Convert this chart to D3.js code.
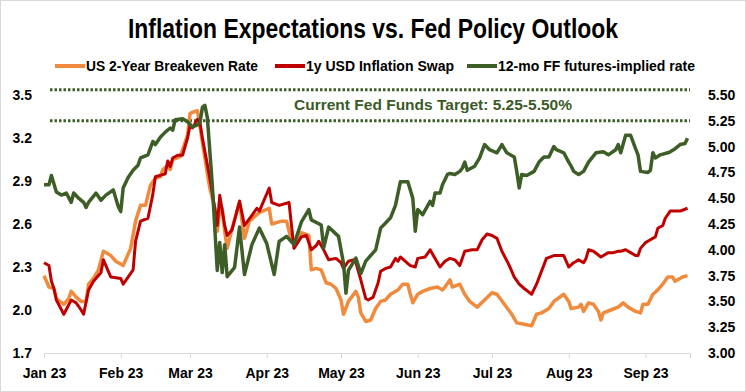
<!DOCTYPE html>
<html><head><meta charset="utf-8">
<script src="https://cdn.jsdelivr.net/npm/d3@7"></script>
<style>
html,body{margin:0;padding:0;background:#fff;}
text{font-family:"Liberation Sans Narrow","Arial Narrow","Liberation Sans",sans-serif;font-weight:bold;}
</style></head>
<body><svg id="c" width="746" height="392"></svg>
<script>
// ---------- DATA ----------
const title = "Inflation Expectations vs. Fed Policy Outlook";
const seriesNames = ["US 2-Year Breakeven Rate", "1y USD Inflation Swap", "12-mo FF futures-implied rate"];
const tickMonths = ["01-03","02-03","03-03","04-03","05-03","06-03","07-03","08-03","09-03"];
const leftTicks = [1.7, 2.0, 2.3, 2.6, 2.9, 3.2, 3.5];
const rightTicks = [3.00, 3.25, 3.50, 3.75, 4.00, 4.25, 4.50, 4.75, 5.00, 5.25, 5.50];
const targetLines = [5.25, 5.55];
const targetLabel = "Current Fed Funds Target: 5.25-5.50%";

const breakevenDates = ["01-03","01-05","01-07","01-08","01-11","01-13","01-14","01-16","01-18","01-20","01-21","01-23","01-25","01-27","01-30","02-01","02-04","02-07","02-09","02-11","02-13","02-15","02-17","02-19","02-20","02-22","02-23","02-24","02-27","02-28","03-02","03-03","03-04","03-06","03-07","03-09","03-11","03-13","03-14","03-15","03-16","03-17","03-18","03-20","03-23","03-25","03-27","03-31","04-04","04-05","04-09","04-11","04-13","04-15","04-17","04-20","04-21","04-23","04-25","04-27","04-29","05-01","05-03","05-04","05-06","05-09","05-10","05-11","05-13","05-15","05-17","05-19","05-21","05-23","05-26","05-28","05-30","05-31","06-01","06-03","06-05","06-08","06-11","06-13","06-14","06-16","06-17","06-20","06-22","06-24","06-27","06-30","07-03","07-05","07-08","07-11","07-13","07-16","07-19","07-21","07-23","07-26","07-28","08-01","08-03","08-04","08-07","08-08","08-09","08-11","08-13","08-15","08-16","08-17","08-20","08-23","08-25","08-27","08-30","09-01","09-02","09-04","09-06","09-08","09-10","09-12","09-14","09-15","09-18","09-20"];
const breakevenValues = [2.24,2.16,2.15,2.08,2.04,2.08,2.13,2.09,2.06,2.06,2.18,2.22,2.28,2.41,2.38,2.34,2.31,2.43,2.62,2.73,2.73,2.87,2.92,2.93,2.98,3.01,2.98,3.05,3.07,3.12,3.22,3.37,3.38,3.39,3.28,3.06,2.85,2.71,2.55,2.69,2.71,2.55,2.43,2.57,2.75,2.50,2.62,2.68,2.71,2.60,2.62,2.62,2.48,2.47,2.54,2.52,2.28,2.29,2.28,2.19,2.18,2.15,2.07,1.97,2.06,2.13,2.09,1.98,1.92,1.93,2.01,2.06,2.07,2.11,2.14,2.18,2.18,2.11,2.05,2.11,2.13,2.15,2.16,2.14,2.16,2.21,2.16,2.18,2.11,2.06,2.02,2.07,2.12,2.11,2.04,1.97,1.91,1.90,1.89,1.97,1.98,2.01,2.06,2.11,2.06,2.01,2.02,2.04,1.99,2.05,2.04,1.99,1.93,1.98,2.00,2.02,2.05,2.02,1.99,1.98,2.04,2.04,2.11,2.14,2.18,2.23,2.23,2.20,2.23,2.24];

const swapDates = ["01-03","01-05","01-06","01-07","01-08","01-11","01-14","01-16","01-18","01-19","01-21","01-23","01-25","01-26","01-27","01-30","02-03","02-04","02-08","02-09","02-11","02-14","02-16","02-17","02-21","02-22","02-23","02-24","02-26","02-28","03-02","03-03","03-04","03-06","03-07","03-08","03-11","03-13","03-14","03-15","03-17","03-18","03-20","03-23","03-25","03-28","03-30","03-31","04-02","04-04","04-05","04-08","04-12","04-14","04-17","04-19","04-21","04-23","04-24","04-26","04-28","05-01","05-03","05-04","05-06","05-08","05-09","05-11","05-13","05-14","05-16","05-18","05-19","05-21","05-23","05-25","05-26","05-27","05-29","05-31","06-02","06-03","06-06","06-08","06-10","06-12","06-14","06-16","06-18","06-20","06-22","06-25","06-27","06-29","07-01","07-03","07-05","07-07","07-10","07-12","07-14","07-16","07-19","07-21","07-23","07-25","07-28","07-30","08-01","08-03","08-05","08-07","08-09","08-10","08-11","08-13","08-16","08-19","08-21","08-23","08-24","08-26","08-28","08-30","08-31","09-01","09-03","09-05","09-07","09-08","09-10","09-11","09-13","09-15","09-17","09-20"];
const swapValues = [2.33,2.31,2.20,2.15,2.07,1.97,2.07,2.05,2.00,1.97,2.14,2.20,2.24,2.26,2.35,2.23,2.22,2.18,2.28,2.48,2.62,2.64,2.81,2.93,2.95,3.04,3.00,3.06,3.08,3.08,3.20,3.29,3.27,3.33,3.31,3.20,2.92,2.71,2.59,2.80,2.59,2.52,2.56,2.76,2.59,2.66,2.71,2.69,2.77,2.85,2.75,2.73,2.75,2.43,2.51,2.52,2.42,2.45,2.48,2.42,2.35,2.36,2.33,2.29,2.34,2.35,2.33,2.21,2.08,2.07,2.09,2.19,2.27,2.29,2.30,2.36,2.34,2.37,2.34,2.31,2.30,2.36,2.37,2.42,2.36,2.30,2.34,2.36,2.35,2.31,2.41,2.42,2.42,2.49,2.53,2.52,2.50,2.41,2.31,2.23,2.18,2.15,2.11,2.18,2.27,2.36,2.38,2.38,2.38,2.30,2.33,2.35,2.33,2.36,2.42,2.41,2.37,2.40,2.40,2.41,2.41,2.42,2.40,2.38,2.38,2.43,2.47,2.49,2.51,2.57,2.59,2.64,2.69,2.69,2.69,2.71];

const ffDates = ["01-03","01-05","01-06","01-08","01-10","01-12","01-14","01-15","01-17","01-19","01-20","01-21","01-24","01-26","01-28","01-31","02-02","02-03","02-04","02-06","02-08","02-10","02-11","02-14","02-16","02-17","02-19","02-21","02-23","02-24","02-25","02-28","03-02","03-04","03-06","03-07","03-08","03-09","03-10","03-12","03-14","03-15","03-16","03-17","03-18","03-21","03-23","03-25","03-28","03-31","04-03","04-06","04-08","04-11","04-14","04-17","04-20","04-21","04-25","04-26","04-28","05-02","05-04","05-05","05-06","05-09","05-11","05-13","05-17","05-19","05-21","05-23","05-25","05-27","05-30","06-01","06-02","06-03","06-05","06-08","06-09","06-10","06-12","06-13","06-15","06-16","06-18","06-20","06-21","06-22","06-23","06-26","06-28","06-30","07-02","07-05","07-07","07-09","07-12","07-13","07-14","07-15","07-17","07-20","07-22","07-24","07-26","07-28","07-29","08-01","08-03","08-04","08-05","08-07","08-09","08-11","08-14","08-17","08-19","08-22","08-23","08-24","08-26","08-28","08-30","08-31","09-01","09-04","09-05","09-06","09-07","09-09","09-12","09-13","09-15","09-17","09-19","09-20"];
const ffValues = [4.63,4.63,4.72,4.56,4.53,4.55,4.46,4.55,4.50,4.46,4.41,4.46,4.55,4.48,4.53,4.58,4.42,4.37,4.60,4.70,4.77,4.82,4.89,4.92,5.05,5.02,5.09,5.14,5.18,5.16,5.26,5.27,5.24,5.19,5.21,5.23,5.38,5.40,5.28,4.63,3.80,4.07,3.78,4.05,3.74,3.83,4.22,3.76,4.05,4.21,4.06,3.76,4.08,4.13,4.05,4.27,4.39,4.29,4.24,4.02,4.22,4.13,3.87,3.58,3.80,3.92,3.77,3.89,4.00,4.21,4.26,4.31,4.43,4.66,4.66,4.50,4.18,4.39,4.34,4.47,4.43,4.55,4.55,4.63,4.73,4.74,4.73,4.76,4.79,4.85,4.77,4.81,4.89,5.02,4.97,4.94,5.02,4.94,4.90,4.76,4.60,4.73,4.72,4.76,4.85,4.90,4.90,5.00,4.97,4.94,4.85,4.81,4.76,4.73,4.76,4.85,4.94,4.95,4.92,4.97,5.02,4.94,5.11,5.11,4.98,4.92,4.76,4.75,4.77,4.94,4.89,4.92,4.94,4.95,4.98,5.02,5.03,5.08];

const colors = ["#F08A3C", "#C00000", "#3E5E27"];

// ---------- CHART ----------
const parse = s => d3.timeParse("%Y-%m-%d")("2023-" + s);
const svg = d3.select("#c");
const W = 746, H = 392;
const m = {left: 44, right: 690, top: 95, bottom: 353};

svg.append("rect").attr("x", 0.5).attr("y", 0.5).attr("width", W - 1).attr("height", H - 1)
  .attr("fill", "#fff").attr("stroke", "#d9d9d9");

const x = d3.scaleTime().domain([parse("01-03"), parse("09-21")]).range([m.left, m.right]);
const yL = d3.scaleLinear().domain([1.7, 3.5]).range([m.bottom, m.top]);
const yR = d3.scaleLinear().domain([3.0, 5.5]).range([m.bottom, m.top]);

// title
svg.append("text").attr("x", 373).attr("y", 38).attr("text-anchor", "middle")
  .attr("font-size", 27).attr("fill", "#000")
  .attr("textLength", 490).attr("lengthAdjust", "spacingAndGlyphs").text(title);

// legend
const legX = [55, 275, 467];
const legW = [172, 148, 197];
seriesNames.forEach((n, i) => {
  const g = svg.append("g").attr("transform", `translate(${legX[i]},66)`);
  g.append("line").attr("x1", 0).attr("x2", 30).attr("y1", 0).attr("y2", 0)
    .attr("stroke", colors[i]).attr("stroke-width", 4);
  g.append("text").attr("x", 31).attr("y", 5).attr("font-size", 14).attr("fill", "#000")
    .attr("textLength", legW[i]).attr("lengthAdjust", "spacingAndGlyphs").text(n);
});

// x axis
const xAxis = d3.axisBottom(x).tickValues(tickMonths.map(parse))
  .tickFormat(d3.timeFormat("%b %y")).tickSize(5).tickPadding(10);
const gx = svg.append("g").attr("transform", `translate(0,${m.bottom})`).call(xAxis);
gx.select(".domain").attr("stroke", "#d9d9d9");
gx.selectAll(".tick line").attr("stroke", "#d9d9d9");
gx.selectAll("text").attr("font-size", 14).attr("fill", "#000");

// left axis
const gl = svg.append("g").attr("transform", `translate(${m.left},0)`)
  .call(d3.axisLeft(yL).tickValues(leftTicks).tickFormat(d3.format(".1f")).tickSize(0).tickPadding(12));
gl.select(".domain").remove();
gl.selectAll("text").attr("font-size", 14).attr("fill", "#000");

// right axis
const gr = svg.append("g").attr("transform", `translate(${m.right},0)`)
  .call(d3.axisRight(yR).tickValues(rightTicks).tickFormat(d3.format(".2f")).tickSize(0).tickPadding(18));
gr.select(".domain").remove();
gr.selectAll("text").attr("font-size", 14).attr("fill", "#000");

// target dotted lines
svg.selectAll(".tl").data(targetLines).join("line").attr("class", "tl")
  .attr("x1", 50).attr("x2", m.right).attr("y1", d => yR(d)).attr("y2", d => yR(d))
  .attr("stroke", colors[2]).attr("stroke-width", 3).attr("stroke-dasharray", "2.5,2");
svg.append("text").attr("x", 433).attr("y", (yR(targetLines[0]) + yR(targetLines[1])) / 2 + 5)
  .attr("text-anchor", "middle").attr("font-size", 15).attr("fill", "#3A5A26")
  .attr("textLength", 278).attr("lengthAdjust", "spacingAndGlyphs").text(targetLabel);

// series
function series(dates, vals, ys, color, w) {
  const data = dates.map((d, i) => ({d: parse(d), v: vals[i]}));
  svg.append("path").datum(data)
    .attr("fill", "none").attr("stroke", color).attr("stroke-width", w)
    .attr("stroke-linejoin", "round")
    .attr("d", d3.line().x(p => x(p.d)).y(p => ys(p.v)));
}
series(breakevenDates, breakevenValues, yL, colors[0], 3.5);
series(swapDates, swapValues, yL, colors[1], 3);
series(ffDates, ffValues, yR, colors[2], 3.5);
</script></body></html>
